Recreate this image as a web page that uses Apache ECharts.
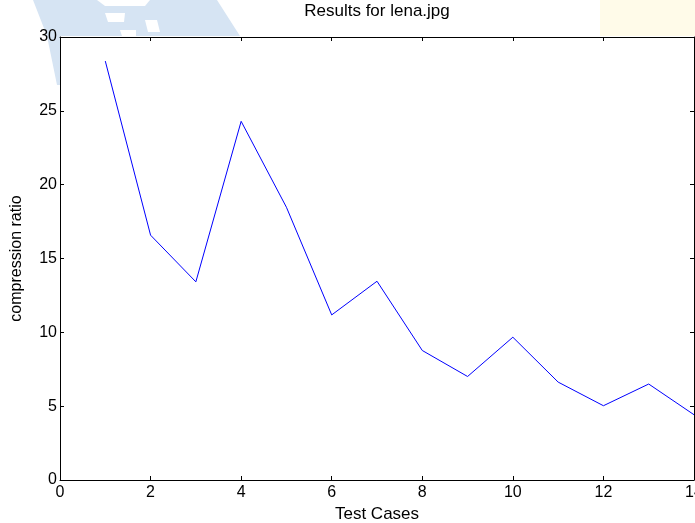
<!DOCTYPE html>
<html>
<head>
<meta charset="utf-8">
<script src="https://cdn.jsdelivr.net/npm/echarts@6/dist/echarts.min.js"></script>
<style>
html,body{margin:0;padding:0;background:#fff;}
#c{width:695px;height:523px;}
</style>
</head>
<body>
<div id="c"></div>
<script>
var testCases = [1,2,3,4,5,6,7,8,9,10,11,12,13,14];
var compressionRatio = [28.37,16.58,13.42,24.29,18.47,11.18,13.46,8.77,7.01,9.67,6.63,5.03,6.50,4.42];
var xTicks = {min:0, max:14, interval:2};
var yTicks = {min:0, max:30, interval:5};

var chart = echarts.init(document.getElementById('c'), null, {renderer:'canvas'});
var font = 'Arial, "Liberation Sans", Helvetica, sans-serif';
function axisBase(extra){
  var base = {
    type:'value',
    axisLine:{show:true, onZero:false, lineStyle:{color:'#000', width:1}},
    axisTick:{show:true, inside:true, length:4, lineStyle:{color:'#000'}},
    splitLine:{show:false},
    axisLabel:{show:true, color:'#000', fontSize:16, fontFamily:font}
  };
  for (var k in extra) base[k] = extra[k];
  return base;
}
var option = {
  backgroundColor:'#fff',
  animation:false,
  title:{text:'Results for lena.jpg', left:377, textAlign:'center', top:3, padding:0,
    textStyle:{fontSize:17, fontWeight:'normal', color:'#000', fontFamily:font}},
  graphic:[
    {type:'polygon', z:-10, silent:true, shape:{points:[[33,0],[217,0],[240,36],[60,36],[60,85],[57,85],[47,36]]}, style:{fill:'#d6e4f3'}},
    {type:'polygon', z:-9, silent:true, shape:{points:[[97,0],[150,0],[145,6],[105,6]]}, style:{fill:'#ffffff'}},
    {type:'polygon', z:-9, silent:true, shape:{points:[[105,13],[125,13],[124,22],[108,22]]}, style:{fill:'#ffffff'}},
    {type:'polygon', z:-9, silent:true, shape:{points:[[145,20],[157,20],[160,32],[148,32]]}, style:{fill:'#ffffff'}},
    {type:'polygon', z:-9, silent:true, shape:{points:[[120,30],[136,30],[136,36],[122,36]]}, style:{fill:'#ffffff'}},
    {type:'rect', z:-10, silent:true, shape:{x:600, y:0, width:95, height:36}, style:{fill:'#fffbe9'}}
  ],
  grid:{left:60, right:1, top:37, bottom:43, show:true, backgroundColor:'#fff', borderWidth:0,
    containLabel:false, outerBoundsMode:'none'},
  xAxis:[
    axisBase({position:'bottom', min:xTicks.min, max:xTicks.max, interval:xTicks.interval,
      name:'Test Cases', nameLocation:'middle', nameGap:25,
      nameTextStyle:{color:'#000', fontSize:17, fontFamily:font},
      axisLabel:{show:true, color:'#000', fontSize:16, fontFamily:font, margin:5, showMaxLabel:true, showMinLabel:true}}),
    axisBase({position:'top', min:xTicks.min, max:xTicks.max, interval:xTicks.interval,
      axisLabel:{show:false}})
  ],
  yAxis:[
    axisBase({position:'left', min:yTicks.min, max:yTicks.max, interval:yTicks.interval,
      name:'compression ratio', nameLocation:'middle', nameGap:35,
      nameTextStyle:{color:'#000', fontSize:16, fontFamily:font},
      axisLabel:{show:true, color:'#000', fontSize:16, fontFamily:font, margin:3}}),
    axisBase({position:'right', min:yTicks.min, max:yTicks.max, interval:yTicks.interval,
      axisLabel:{show:false}})
  ],
  series:[{
    type:'line',
    data:testCases.map(function(x,i){return [x, compressionRatio[i]];}),
    showSymbol:false, symbol:'none',
    lineStyle:{color:'#0000ff', width:1},
    clip:false
  }]
};
chart.setOption(option);
</script>
</body>
</html>
